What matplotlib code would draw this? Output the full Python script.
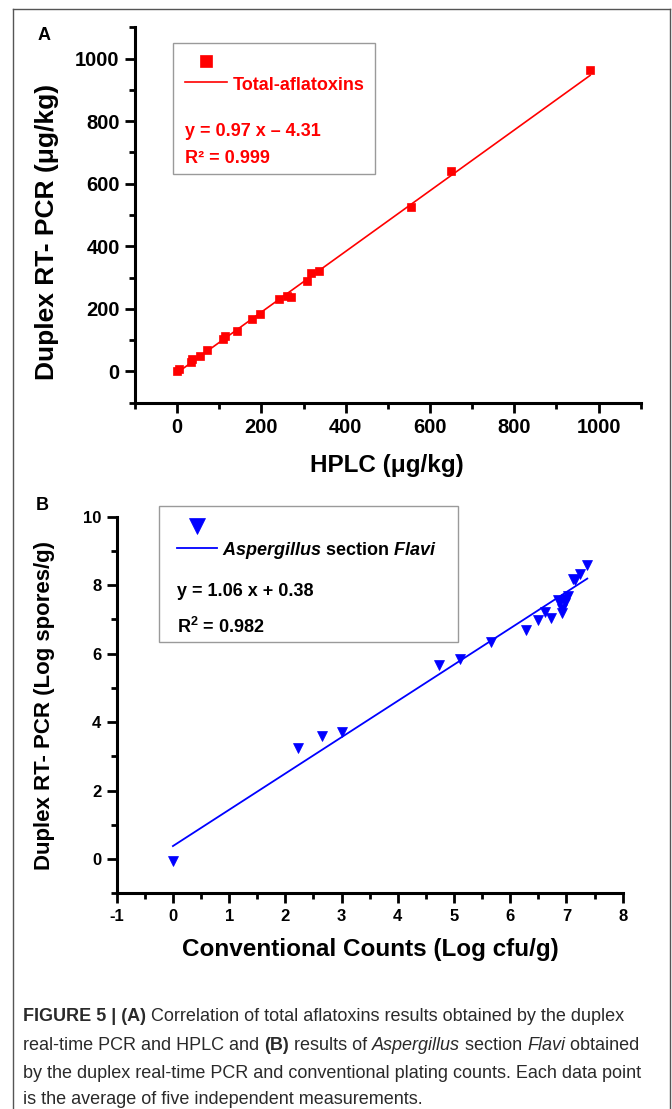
import matplotlib
matplotlib.use('Agg')
import matplotlib.pyplot as plt
from matplotlib.lines import Line2D
from matplotlib.patches import Rectangle
from matplotlib.ticker import MultipleLocator
import numpy as np

plt.rcParams['font.family'] = ['Liberation Sans', 'DejaVu Sans']
plt.rcParams['font.weight'] = 'bold'
plt.rcParams['axes.unicode_minus'] = False
plt.rcParams['mathtext.fontset'] = 'custom'
plt.rcParams['mathtext.rm'] = 'Liberation Sans:bold'
plt.rcParams['mathtext.bf'] = 'Liberation Sans:bold'
plt.rcParams['mathtext.it'] = 'Liberation Sans:italic:bold'
plt.rcParams['mathtext.bfit'] = 'Liberation Sans:italic:bold'

# ---------------- data ----------------
# Panel A: total aflatoxins
hplc = [0, 5, 33, 36, 54, 70, 110, 113, 143, 177, 197, 242, 260, 269, 307, 318, 336, 555, 651, 980]
pcr_a = [2, 7, 29, 39, 48, 67, 105, 112, 129, 169, 184, 233, 242, 237, 289, 314, 321, 524, 640, 963]
slope_a, icpt_a = 0.97, -4.31

# Panel B: Aspergillus section Flavi
conv = [0, 2.22, 2.65, 3.0, 4.73, 5.10, 5.66, 6.28, 6.49, 6.61, 6.73, 6.85, 6.89,
        6.92, 6.92, 6.98, 7.0, 7.02, 7.11, 7.15, 7.24, 7.37]
pcr_b = [-0.05, 3.25, 3.58, 3.72, 5.68, 5.84, 6.34, 6.69, 6.97, 7.21, 7.04, 7.56, 7.51,
         7.2, 7.31, 7.48, 7.61, 7.67, 8.19, 8.14, 8.32, 8.58]
slope_b, icpt_b = 1.06, 0.38

xticks_a = [0, 200, 400, 600, 800, 1000]
yticks_a = [0, 200, 400, 600, 800, 1000]
xticks_b = [-1, 0, 1, 2, 3, 4, 5, 6, 7, 8]
yticks_b = [0, 2, 4, 6, 8, 10]

W, H = 672, 1109
fig = plt.figure(figsize=(W / 100, H / 100), dpi=100)

def style_axes(ax, major_len=7, minor_len=4.5, labelsize=14):
    for s in ['top', 'right']:
        ax.spines[s].set_visible(False)
    for s in ['left', 'bottom']:
        ax.spines[s].set_linewidth(2.2)
    ax.tick_params(which='major', direction='out', length=major_len, width=2.0,
                   labelsize=labelsize, pad=4)
    ax.tick_params(which='minor', direction='out', length=minor_len, width=2.0)
    for lab in ax.get_xticklabels() + ax.get_yticklabels():
        lab.set_fontweight('bold')

# ---------------- Panel A ----------------
axA = fig.add_axes([135 / W, 1 - 402.7 / H, 505.7 / W, 375.4 / H])
xf = np.array([min(hplc), max(hplc)])
fitA, = axA.plot(xf, slope_a * xf + icpt_a, '-', color='#ff0000', lw=1.2)
sqA, = axA.plot(hplc, pcr_a, 's', color='#ff0000', ms=6, mec='#ff0000', mew=0.5)
axA.set_xlim(-100, 1100)
axA.set_ylim(-100, 1100)
axA.set_xticks(xticks_a)
axA.set_yticks(yticks_a)
axA.xaxis.set_minor_locator(MultipleLocator(100))
axA.yaxis.set_minor_locator(MultipleLocator(100))
style_axes(axA, labelsize=14.5)
axA.set_xlabel('HPLC (\u03bcg/kg)', fontsize=17.5, fontweight='bold')
axA.xaxis.set_label_coords(0.4983, -0.166)
axA.xaxis.label.set_verticalalignment('center')
axA.set_ylabel('Duplex RT- PCR (\u03bcg/kg)', fontsize=19, fontweight='bold')
axA.yaxis.set_label_coords(-0.174, 0.455)
axA.yaxis.label.set_verticalalignment('center')

axA.add_patch(Rectangle((0.0751, 0.6092), 0.3995, 0.349, transform=axA.transAxes,
                        fill=False, ec='#9a9a9a', lw=1.0, clip_on=False))
legA = axA.legend([sqA, fitA], ['', 'Total-aflatoxins'], loc='upper left',
                  bbox_to_anchor=(0.0989, 0.928), frameon=False, fontsize=13,
                  handlelength=2.33, handletextpad=0.33, borderpad=0, borderaxespad=0,
                  labelspacing=0.15, markerscale=1.4, handleheight=1.0, labelcolor='#ff0000')
axA.text(0.0989, 0.7211, 'y = 0.97 x \u2013 4.31', transform=axA.transAxes, va='center',
         fontsize=13, color='#ff0000', fontweight='bold')
axA.text(0.0989, 0.6518, 'R\u00b2 = 0.999', transform=axA.transAxes, va='center',
         fontsize=13, color='#ff0000', fontweight='bold')

# ---------------- Panel B ----------------
axB = fig.add_axes([116.7 / W, 1 - 893.3 / H, 506 / W, 376.6 / H])
xfb = np.array([min(conv), max(conv)])
fitB, = axB.plot(xfb, slope_b * xfb + icpt_b, '-', color='#0000ff', lw=1.3)
triB, = axB.plot(conv, pcr_b, 'v', color='#0000ff', ms=7, mec='#0000ff', mew=0.5)
axB.set_xlim(-1, 8)
axB.set_ylim(-1, 10)
axB.set_xticks(xticks_b)
axB.set_yticks(yticks_b)
axB.xaxis.set_minor_locator(MultipleLocator(0.5))
axB.yaxis.set_minor_locator(MultipleLocator(1))
style_axes(axB, labelsize=12)
axB.set_xlabel('Conventional Counts (Log cfu/g)', fontsize=17.5, fontweight='bold')
axB.xaxis.set_label_coords(0.5006, -0.148)
axB.xaxis.label.set_verticalalignment('center')
axB.set_ylabel('Duplex RT- PCR (Log spores/g)', fontsize=16, fontweight='bold')
axB.yaxis.set_label_coords(-0.1417, 0.5)
axB.yaxis.label.set_verticalalignment('center')

axB.add_patch(Rectangle((0.0836, 0.6665), 0.5903, 0.3619, transform=axB.transAxes,
                        fill=False, ec='#9a9a9a', lw=1.0, clip_on=False))
legB = axB.legend([triB, fitB], ['', r'$\mathbfit{Aspergillus}$ section $\mathbfit{Flavi}$'],
                  loc='upper left', bbox_to_anchor=(0.1186, 0.994), frameon=False,
                  fontsize=13, handlelength=2.22, handletextpad=0.31, borderpad=0,
                  borderaxespad=0, labelspacing=0.15, markerscale=1.6, handleheight=1.0)
axB.text(0.1198, 0.8008, 'y = 1.06 x + 0.38', transform=axB.transAxes, va='center',
         fontsize=13, color='black', fontweight='bold')
axB.text(0.1198, 0.7079, r'R$^{\mathbf{2}}$ = 0.982', transform=axB.transAxes, va='center',
         fontsize=13, color='black', fontweight='bold')

# panel letters
fig.text(44 / W, 1 - 35 / H, 'A', ha='center', va='center', fontsize=13, fontweight='bold')
fig.text(42 / W, 1 - 505 / H, 'B', ha='center', va='center', fontsize=13, fontweight='bold')

# frame
for xs, ys in [([13.3, 13.3], [9.3, 1109]), ([13.3, 670], [9.3, 9.3]), ([670, 670], [9.3, 1109])]:
    fig.add_artist(Line2D([x / W for x in xs], [1 - y / H for y in ys], color='#555555', lw=1.0))

# caption
renderer = fig.canvas.get_renderer()
cap_color = '#2a2a2a'
cap_size = 13

def adv(s, w, st):
    p1 = fig.text(0, 0, 'x' + s + 'x', fontsize=cap_size, fontweight=w, fontstyle=st)
    p2 = fig.text(0, 0, 'xx', fontsize=cap_size, fontweight=w, fontstyle=st)
    a = p1.get_window_extent(renderer).width - p2.get_window_extent(renderer).width
    p1.remove(); p2.remove()
    return a

def runs_line(x_px, y_px, runs):
    x = x_px
    for s, w, st in runs:
        fig.text(x / W, 1 - y_px / H, s, fontsize=cap_size, fontweight=w, fontstyle=st,
                 color=cap_color, va='center', ha='left')
        x += adv(s, w, st)

N, B, I = 'normal', 'bold', 'italic'
caption = [
    [('FIGURE 5 | (A)', B, N), (' Correlation of total aflatoxins results obtained by the duplex', N, N)],
    [('real-time PCR and HPLC and ', N, N), ('(B)', B, N), (' results of ', N, N),
     ('Aspergillus', N, I), (' section ', N, N), ('Flavi', N, I), (' obtained', N, N)],
    [('by the duplex real-time PCR and conventional plating counts. Each data point', N, N)],
    [('is the average of five independent measurements.', N, N)],
]
for line, yp in zip(caption, [1016.7, 1045, 1073, 1100]):
    runs_line(23.3, yp, line)

fig.savefig('out.png', dpi=100)
